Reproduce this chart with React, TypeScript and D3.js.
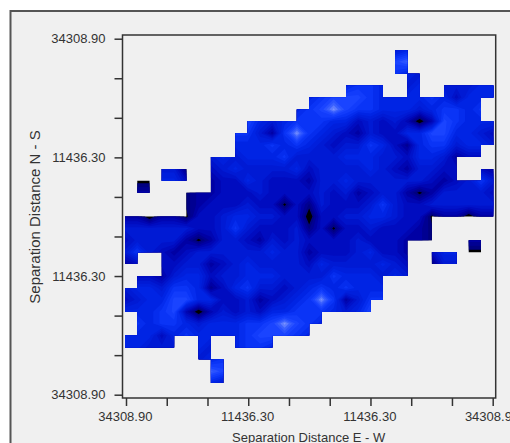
import React, { useEffect, useRef } from "react";
import * as d3 from "d3";

const lagTicks = [-34308.9, -26684.7, -19060.5, -11436.3, -3812.1, 3812.1, 11436.3, 19060.5, 26684.7, 34308.9];
const labelledTicks = [-34308.9, -11436.3, 11436.3, 34308.9];
const xTitle = "Separation Distance E - W";
const yTitle = "Separation Distance N - S";

// Occupied cells: [row, firstColumn, lastColumn]
const occupied = [
  [1, 22, 22], [2, 22, 22], [3, 23, 23], [4, 18, 20], [4, 23, 23], [4, 26, 29],
  [5, 15, 28], [6, 14, 28], [7, 10, 29], [8, 9, 29], [9, 9, 28], [10, 7, 26],
  [11, 3, 4], [11, 7, 26], [11, 29, 29], [12, 1, 1], [12, 7, 29], [13, 5, 29], [14, 5, 29],
  [15, 0, 24], [16, 0, 24], [17, 0, 22], [17, 28, 28], [18, 0, 0], [18, 3, 22], [18, 25, 26],
  [19, 3, 22], [20, 1, 20], [21, 0, 20], [22, 0, 19], [23, 1, 15], [24, 1, 14],
  [25, 0, 3], [25, 6, 6], [25, 9, 11], [26, 6, 6], [27, 7, 7], [28, 7, 7],
];

// Relative variogram level at each grid node (31 x 31)
const levels: number[][] = [
  [4,4,4,4,4,4,4,4,4,4,4,4,4,4,4,4,4,4,4,4,4,4,4,4,4,4,4,4,4,4,4],
  [4,4,4,4,4,4,4,4,4,4,4,4,4,4,4,4,4,4,4,4,4,4,4,5,4,4,4,4,4,4,4],
  [4,4,4,4,4,4,4,4,4,4,4,4,4,4,4,4,4,4,4,4,4,4,7,8,4,4,4,4,4,4,4],
  [4,4,4,4,4,4,4,4,4,4,4,4,4,4,4,4,4,4,4,4,4,4,6,5,4,4,4,4,4,4,4],
  [4,4,4,4,4,4,4,4,4,4,4,4,4,4,4,4,4,4,5,6,6,5,5,4,5,5,4,4,4,5,5],
  [4,4,4,4,4,4,4,4,4,4,4,4,4,4,4,5,6,7,7,7,6,5,5,5,5,6,5,3,5,5,5],
  [4,4,4,4,4,4,4,4,4,4,4,4,4,4,5,6,7,9,7,6,6,5,5,5,4,5,6,6,5,6,5],
  [4,4,4,4,4,4,4,4,4,4,7,5,4,5,6,6,6,5,5,3,4,3,4,2.5,0,2.5,7,6,5,5,5],
  [4,4,4,4,4,4,4,4,4,6,6,4,2,6,9,6,5,4,3,2,4,3,3,5,5,7,7,5,5,4,3],
  [4,4,4,4,4,4,4,4,4,5,5,5,6,5,6,5,4,3,4,4,6,5,3,1.5,5,6,6,4,5,5,4],
  [4,4,4,4,4,4,4,4,5,4,5,5,5,6,4,4,4,4,5,5,5,4,4,3,5,5,4,2,3,3,3],
  [4,4,4,4,4,1,3,3,4,5,4,4,4,4,5,3,4,4,4,4,5,4,3,2,4,4,3,3,3,3,2],
  [4,0.5,0.5,5,5,3,3,2,3,3,5,4,3,3,3,2,4,4,5,4,4,4,4,4,4,3,2,3,4,6,4],
  [4,2,2,4,4,1,2,2,3,3,3,4,3,3,3,3,4,3,4,2,3,4,4,2,0.5,2,4,4,4,4,3],
  [3,3,3,3,3,1,2,3,3,3,4,3,3,0.5,3,1.2,4,3,3,3,4,6,4,3,3,4,4,4,4,4,4],
  [2,2,0,2,2,0.5,3,3,4,5,5,4,4,3,3,0,3,3,4,4,5,5,4,3,3,0.5,2,2,0,2,2],
  [4,4,4,4,4,4,3,3,4,6,4,3,3,3,4,1.2,3,0.5,3,3,4,3,3,3,2,1,3,3,3,3,3],
  [3,4,4,4,4,2,0.5,2,4,4,3,2,4,3,4,3,3,3,3,4,3,3,3,2,2,1,4,4,2,2,4],
  [4,6,4,3,2,3,4,4,4,4,4,4,5,4,4,2,3,3,3,4,5,3,3,2,3,3,5,5,0.5,0.5,4],
  [2,3,3,3,3,4,4,2,3,4,5,4,4,4,4,3,5,4,4,4,4,5,4,3,3,1,4,4,4,4,4],
  [3,3,3,2,4,5,5,3,4,4,5,5,5,4,4,4,4,6,5,5,5,4,5,4,4,4,4,4,4,4,4],
  [4,5,5,4,6,6,5,1.5,3,5,6,4,4,3,4,5,6,5,6,5,5,5,4,4,4,4,4,4,4,4,4],
  [3,4,5,5,7,7,5,5,3,3,4,2,3,4,5,6,9,6,2,4,6,6,4,4,4,4,4,4,4,4,4],
  [5,5,5,6,7,2.5,0,2.5,4,3,4,3,5,5,6,6,6,5,4,5,7,4,4,4,4,4,4,4,4,4,4],
  [5,6,5,6,6,5,4,5,5,5,6,6,7,9,7,6,5,4,4,4,4,4,4,4,4,4,4,4,4,4,4],
  [5,5,5,3,5,6,5,5,5,5,6,7,7,7,6,5,4,4,4,4,4,4,4,4,4,4,4,4,4,4,4],
  [5,5,4,4,4,5,5,4,5,5,6,6,5,4,4,4,4,4,4,4,4,4,4,4,4,4,4,4,4,4,4],
  [4,4,4,4,4,4,4,5,6,4,4,4,4,4,4,4,4,4,4,4,4,4,4,4,4,4,4,4,4,4,4],
  [4,4,4,4,4,4,4,8,7,4,4,4,4,4,4,4,4,4,4,4,4,4,4,4,4,4,4,4,4,4,4],
  [4,4,4,4,4,4,4,5,4,4,4,4,4,4,4,4,4,4,4,4,4,4,4,4,4,4,4,4,4,4,4],
  [4,4,4,4,4,4,4,4,4,4,4,4,4,4,4,4,4,4,4,4,4,4,4,4,4,4,4,4,4,4,4],
];

const contourThresholds = [0.8,1.3,1.8,2.3,2.8,3.3,3.8,4.3,4.8,5.3,5.8,6.3,6.8,7.3,7.8,8.3,8.8];
const colorStops = ["#000000","#000080","#0000a4","#000cc0","#001ad4","#0024e4","#0a34f6","#1a44ff","#3a60ff","#8097ff"];

export default function App() {
  const ref = useRef<SVGGElement>(null);
  const xTick = d3.scaleLinear().domain([-34308.9, 34308.9]).range([126, 492.7]);
  const yTick = d3.scaleLinear().domain([34308.9, -34308.9]).range([38.7, 394.7]);
  const cellX = d3.scaleLinear().domain([0, 30]).range([125, 493.3]);
  const cellY = d3.scaleLinear().domain([0, 30]).range([38, 395]);
  const color = d3.scaleLinear<string>().domain(d3.range(colorStops.length)).range(colorStops);

  const bands = d3.contours().size([31, 31]).thresholds(contourThresholds)(levels.flat());
  const path = d3.geoPath(
    d3.geoTransform({
      point(x: number, y: number) {
        (this as any).stream.point(cellX(x - 0.5), cellY(y - 0.5));
      },
    })
  );
  const fmt = (v: number) => (labelledTicks.some((t) => Math.abs(t - v) < 1) ? Math.abs(v).toFixed(2) : "");

  useEffect(() => {
    const g = d3.select(ref.current);
    g.selectAll("*").remove();
    const left = g.append("g").attr("transform", "translate(122.5,0)")
      .call(d3.axisLeft(yTick).tickValues(lagTicks).tickSize(8).tickPadding(9).tickFormat(fmt as any));
    const bottom = g.append("g").attr("transform", "translate(0,398)")
      .call(d3.axisBottom(xTick).tickValues(lagTicks).tickSize(8).tickPadding(6).tickFormat(fmt as any));
    [left, bottom].forEach((a) => {
      a.select(".domain").remove();
      a.selectAll("line").attr("stroke", "#333").attr("stroke-width", 1.5);
      a.selectAll("text").attr("font-family", "Liberation Sans, Arial, sans-serif").attr("font-size", 13).attr("fill", "#333");
    });
    bottom.selectAll("text").attr("dx", -1.2);
  }, []);

  return (
    <svg width={510} height={443} style={{ position: "absolute", left: 0, top: 0, background: "#fff" }}>
      <rect x={10.5} y={11} width={600} height={600} fill="#f0f0f0" stroke="#555" strokeWidth={2} />
      <defs>
        <clipPath id="occupied">
          {occupied.map(([r, a, b], i) => (
            <rect key={i} x={cellX(a)} y={cellY(r)} width={cellX(b + 1) - cellX(a)} height={cellY(r + 1) - cellY(r)} />
          ))}
        </clipPath>
      </defs>
      <g clipPath="url(#occupied)">
        <rect x={cellX(0)} y={cellY(0)} width={cellX(30) - cellX(0)} height={cellY(30) - cellY(0)} fill={colorStops[0]} />
        {bands.map((b, i) => (
          <path key={i} d={path(b as any) ?? ""} fill={color(b.value + 0.2)} />
        ))}
      </g>
      <rect x={122.5} y={35} width={373.2} height={363} fill="none" stroke="#333" strokeWidth={1.5} />
      <g ref={ref} />
      <text x={40} y={217} transform="rotate(-90 40 217)" textAnchor="middle" fontFamily="Liberation Sans, Arial, sans-serif" fontSize={15} fill="#333">{yTitle}</text>
      <text x={308.7} y={442} textAnchor="middle" fontFamily="Liberation Sans, Arial, sans-serif" fontSize={13} fill="#333">{xTitle}</text>
    </svg>
  );
}
